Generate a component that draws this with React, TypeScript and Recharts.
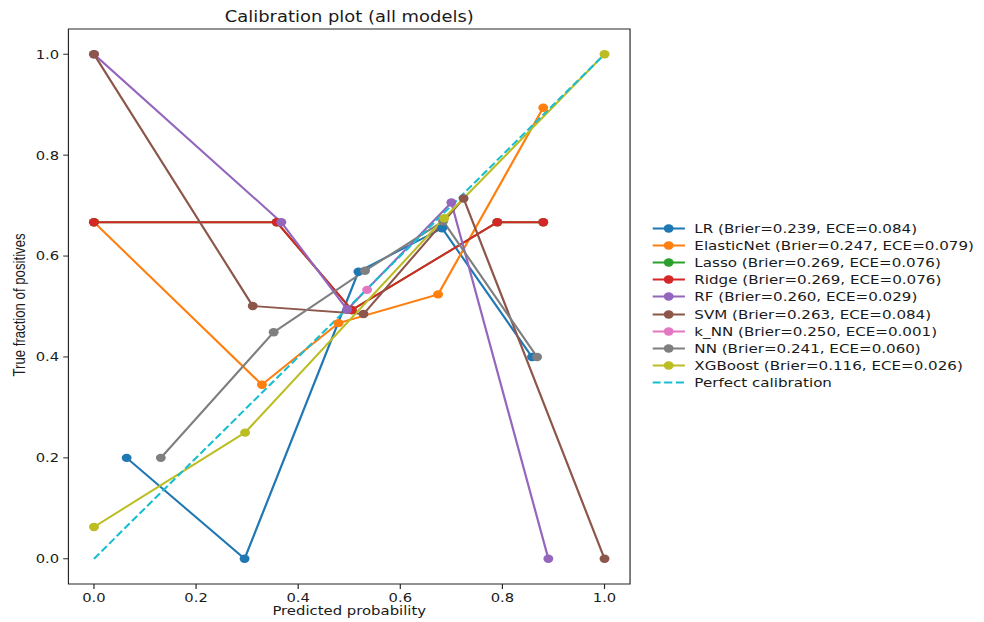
import React from 'react';
import { LineChart, Line, XAxis, YAxis, ReferenceArea } from 'recharts';

// ---- data (x = predicted probability, y = true fraction of positives) ----
const lrPoints = [
  { x: 0.064, y: 0.2 },
  { x: 0.295, y: 0.0 },
  { x: 0.518, y: 0.569 },
  { x: 0.682, y: 0.655 },
  { x: 0.858, y: 0.4 },
];
const elasticNetPoints = [
  { x: 0.0, y: 0.667 },
  { x: 0.329, y: 0.345 },
  { x: 0.479, y: 0.467 },
  { x: 0.674, y: 0.524 },
  { x: 0.88, y: 0.894 },
];
const lassoPoints = [
  { x: 0.0, y: 0.667 },
  { x: 0.358, y: 0.667 },
  { x: 0.505, y: 0.493 },
  { x: 0.79, y: 0.667 },
  { x: 0.88, y: 0.667 },
];
const ridgePoints = [
  { x: 0.0, y: 0.667 },
  { x: 0.358, y: 0.667 },
  { x: 0.505, y: 0.493 },
  { x: 0.79, y: 0.667 },
  { x: 0.88, y: 0.667 },
];
const rfPoints = [
  { x: 0.0, y: 1.0 },
  { x: 0.367, y: 0.667 },
  { x: 0.496, y: 0.494 },
  { x: 0.7, y: 0.706 },
  { x: 0.89, y: 0.0 },
];
const svmPoints = [
  { x: 0.0, y: 1.0 },
  { x: 0.311, y: 0.501 },
  { x: 0.528, y: 0.485 },
  { x: 0.724, y: 0.714 },
  { x: 1.0, y: 0.0 },
];
const knnPoints = [{ x: 0.535, y: 0.533 }];
const nnPoints = [
  { x: 0.131, y: 0.2 },
  { x: 0.352, y: 0.449 },
  { x: 0.531, y: 0.571 },
  { x: 0.684, y: 0.669 },
  { x: 0.868, y: 0.4 },
];
const xgbPoints = [
  { x: 0.0, y: 0.063 },
  { x: 0.296, y: 0.25 },
  { x: 0.686, y: 0.675 },
  { x: 1.0, y: 1.0 },
];
const perfectPoints = [
  { x: 0.0, y: 0.0 },
  { x: 1.0, y: 1.0 },
];

const seriesNames = [
  'LR (Brier=0.239, ECE=0.084)',
  'ElasticNet (Brier=0.247, ECE=0.079)',
  'Lasso (Brier=0.269, ECE=0.076)',
  'Ridge (Brier=0.269, ECE=0.076)',
  'RF (Brier=0.260, ECE=0.029)',
  'SVM (Brier=0.263, ECE=0.084)',
  'k_NN (Brier=0.250, ECE=0.001)',
  'NN (Brier=0.241, ECE=0.060)',
  'XGBoost (Brier=0.116, ECE=0.026)',
  'Perfect calibration',
];
const seriesColors = [
  '#1f77b4', '#ff7f0e', '#2ca02c', '#d62728', '#9467bd',
  '#8c564b', '#e377c2', '#7f7f7f', '#bcbd22', '#17becf',
];
const seriesData = [
  lrPoints, elasticNetPoints, lassoPoints, ridgePoints, rfPoints,
  svmPoints, knnPoints, nnPoints, xgbPoints, perfectPoints,
];
const axisTicks = [0, 0.2, 0.4, 0.6, 0.8, 1.0];

const titleText = 'Calibration plot (all models)';
const xLabelText = 'Predicted probability';
const yLabelText = 'True fraction of positives';

// ---- layout ----
const S = 984 / 834; // horizontal stretch of the reference image
const W = 834;
const H = 622;
const M = { top: 29, right: 300, bottom: 0, left: 0 };
const PLOT_LEFT = 58;
const PLOT_RIGHT = W - M.right;
const FONT = "'DejaVu Sans', sans-serif";
const TEXT = '#1a1a1a';
const SPINE = '#262626';
const DOT_R = 4.2;

const XLabel = () => (
  <text
    x={(PLOT_LEFT + PLOT_RIGHT) / 2}
    y={615}
    textAnchor="middle"
    fontFamily={FONT}
    fontSize={12.6}
    fill={TEXT}
  >
    {xLabelText}
  </text>
);

const YLabel = () => (
  <text
    x={17}
    y={305}
    transform="rotate(-90 17 305)"
    textAnchor="middle"
    dominantBaseline="central"
    fontFamily="'Liberation Sans', Arial, sans-serif"
    fontSize={13.2}
    fill={TEXT}
  >
    {yLabelText}
  </text>
);

const LegendBox = () => (
  <div
    style={{
      position: 'absolute',
      left: 553,
      top: 219.7,
      fontFamily: FONT,
      fontSize: 12.8,
      color: TEXT,
    }}
  >
    {seriesNames.map((name, i) => {
      const isPerfect = i === seriesNames.length - 1;
      return (
        <div
          key={name}
          style={{ display: 'flex', alignItems: 'center', height: 17.17, whiteSpace: 'nowrap' }}
        >
          <svg width={27.5} height={17} style={{ display: 'block', flex: 'none' }}>
            <line
              x1={0}
              x2={27.5}
              y1={8.5}
              y2={8.5}
              stroke={seriesColors[i]}
              strokeWidth={1.9}
              strokeDasharray={isPerfect ? '6.9 3' : undefined}
            />
            {!isPerfect && <circle cx={13.75} cy={8.5} r={DOT_R} fill={seriesColors[i]} />}
          </svg>
          <span style={{ marginLeft: 8, lineHeight: '17px' }}>{name}</span>
        </div>
      );
    })}
  </div>
);

export default function App() {
  return (
    <div
      style={{
        position: 'absolute',
        left: 0,
        top: 0,
        width: W,
        height: H,
        background: '#ffffff',
        transform: `scaleX(${S})`,
        transformOrigin: '0 0',
      }}
    >
      <div
        style={{
          position: 'absolute',
          left: PLOT_LEFT,
          width: PLOT_RIGHT - PLOT_LEFT,
          top: 10,
          textAlign: 'center',
          fontFamily: FONT,
          fontSize: 15.2,
          lineHeight: '15px',
          color: TEXT,
          whiteSpace: 'nowrap',
        }}
      >
        {titleText}
      </div>
      <LineChart width={W} height={H} margin={M}>
        <XAxis
          type="number"
          dataKey="x"
          domain={[-0.05, 1.05]}
          allowDataOverflow
          ticks={axisTicks}
          tickFormatter={(v: number) => v.toFixed(1)}
          height={38}
          tickSize={5}
          tickMargin={4}
          axisLine={false}
          tickLine={{ stroke: SPINE, strokeWidth: 1 }}
          tick={{ fontSize: 12.5, fill: TEXT, fontFamily: FONT }}
          label={<XLabel />}
        />
        <YAxis
          type="number"
          domain={[-0.05, 1.05]}
          allowDataOverflow
          ticks={axisTicks}
          tickFormatter={(v: number) => v.toFixed(1)}
          width={PLOT_LEFT}
          tickSize={4.4}
          tickMargin={3.5}
          axisLine={false}
          tickLine={{ stroke: SPINE, strokeWidth: 1 }}
          tick={{ fontSize: 12.5, fill: TEXT, fontFamily: FONT }}
          label={<YLabel />}
        />
        <ReferenceArea
          x1={-0.05}
          x2={1.05}
          y1={-0.05}
          y2={1.05}
          fill="none"
          fillOpacity={0}
          stroke={SPINE}
          strokeWidth={1}
          ifOverflow="visible"
        />
        {seriesData.map((pts, i) => {
          const isPerfect = i === seriesData.length - 1;
          return (
            <Line
              key={seriesNames[i]}
              data={pts}
              dataKey="y"
              name={seriesNames[i]}
              type="linear"
              stroke={seriesColors[i]}
              strokeWidth={1.9}
              strokeDasharray={isPerfect ? '6.9 3' : undefined}
              dot={isPerfect ? false : { r: DOT_R, fill: seriesColors[i], stroke: seriesColors[i], strokeWidth: 0 }}
              activeDot={false}
              isAnimationActive={false}
            />
          );
        })}
      </LineChart>
      <LegendBox />
    </div>
  );
}
